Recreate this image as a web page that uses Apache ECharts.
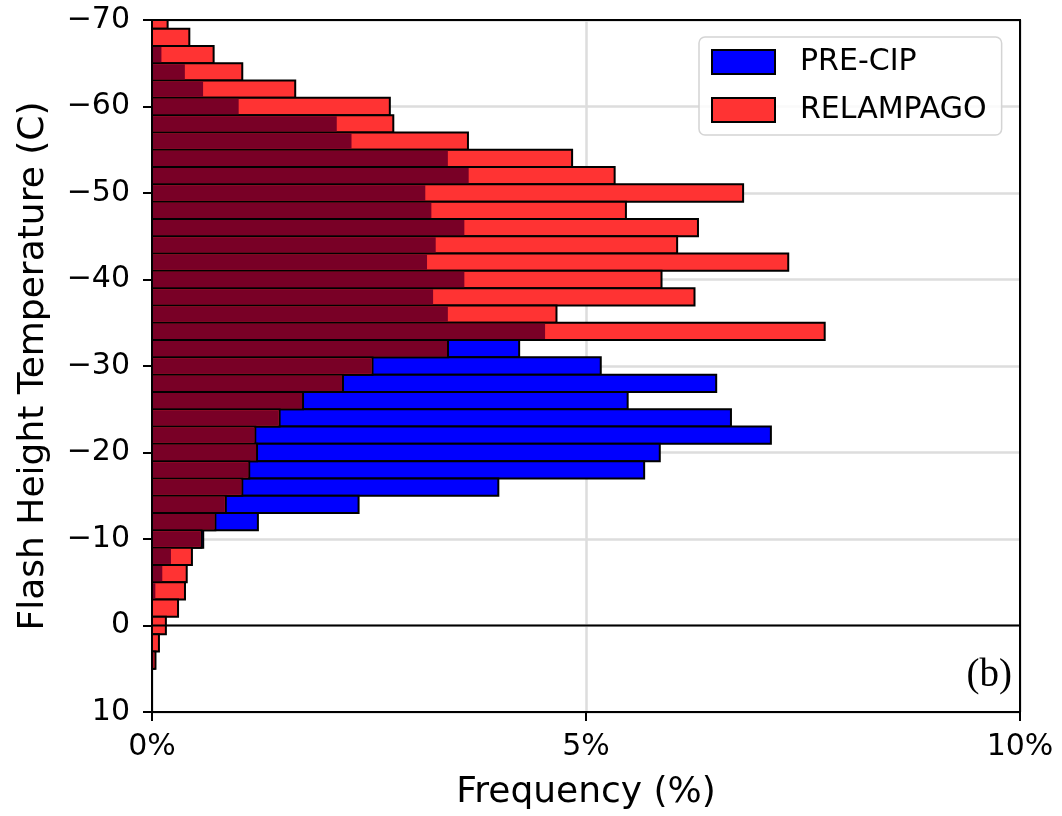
<!DOCTYPE html>
<html>
<head>
<meta charset="utf-8">
<script src="https://cdn.jsdelivr.net/npm/echarts@6/dist/echarts.min.js"></script>
<style>
  html, body { margin: 0; padding: 0; background: #ffffff; }
  #chart { width: 1062px; height: 816px; }
</style>
</head>
<body>
<div id="chart"></div>
<script>
// Flash height temperature histogram: bin centres in °C (bins are 2 °C wide)
const binCentres = [
  -70, -68, -66, -64, -62, -60, -58, -56, -54, -52,
  -50, -48, -46, -44, -42, -40, -38, -36, -34, -32,
  -30, -28, -26, -24, -22, -20, -18, -16, -14, -12,
  -10, -8, -6, -4, -2, 0, 2, 4, 6, 8, 10
];
const binWidth = 2;

// Frequency of flashes per bin (%)
const preCip = [
  0.00, 0.00, 0.12, 0.39, 0.60, 1.01, 2.14, 2.31, 3.42, 3.66,
  3.16, 3.23, 3.61, 3.28, 3.18, 3.61, 3.25, 3.42, 4.54, 4.23,
  5.17, 6.50, 5.48, 6.67, 7.13, 5.85, 5.67, 3.99, 2.38, 1.22,
  0.59, 0.23, 0.13, 0.05, 0.02, 0.01, 0.00, 0.03, 0.00, 0.00, 0.00
];
const relampago = [
  0.18, 0.43, 0.71, 1.04, 1.65, 2.74, 2.78, 3.64, 4.84, 5.33,
  6.81, 5.46, 6.29, 6.05, 7.33, 5.87, 6.25, 4.66, 7.75, 3.41,
  2.54, 2.20, 1.74, 1.47, 1.19, 1.21, 1.12, 1.04, 0.85, 0.73,
  0.57, 0.46, 0.40, 0.38, 0.30, 0.16, 0.08, 0.04, 0.00, 0.00, 0.00
];

// Axis ticks
const tempTicks = { min: -70, max: 10, step: 10 };
const freqTicks = { min: 0, max: 10, step: 5 };
const freezingLevel = 0;

const seriesNames = ['PRE-CIP', 'RELAMPAGO'];

const COLORS = {
  preCip: '#0000ff',
  relampago: '#ff3333',
  overlap: '#790026',
  edge: '#000000',
  grid: '#dddddd'
};
const EDGE_W = 2;
const FONT = '"DejaVu Sans", sans-serif';

// Portion of each bin shared by both campaigns
const overlap = preCip.map((v, i) => Math.min(v, relampago[i]));

function toData(values) {
  return binCentres.map((t, i) => [t, values[i]]);
}

// Draws one horizontal histogram bar per bin, clipped to the plot area
function binRenderer(fill, stroke, inset) {
  return function (params, api) {
    const t = api.value(0);
    const v = api.value(1);
    if (!(v > 0)) return;
    const a = api.coord([0, t - binWidth / 2]);
    const b = api.coord([v, t + binWidth / 2]);
    let rect = {
      x: Math.min(a[0], b[0]) + inset,
      y: Math.min(a[1], b[1]) + inset,
      width: Math.abs(b[0] - a[0]) - 2 * inset,
      height: Math.abs(b[1] - a[1]) - 2 * inset
    };
    if (rect.width <= 0 || rect.height <= 0) return;
    rect = echarts.graphic.clipRectByRect(rect, params.coordSys);
    if (!rect) return;
    return {
      type: 'rect',
      shape: rect,
      style: stroke
        ? { fill: fill, stroke: stroke, lineWidth: EDGE_W }
        : { fill: fill }
    };
  };
}

const chart = echarts.init(document.getElementById('chart'), null, { renderer: 'canvas' });

chart.setOption({
  animation: false,
  backgroundColor: '#ffffff',
  grid: {
    left: 152, right: 42, top: 20, bottom: 104,
    show: true, borderColor: '#000000', borderWidth: 2,
    backgroundColor: 'transparent', z: 5
  },
  legend: {
    orient: 'vertical',
    left: 699, top: 37,
    padding: [10, 15, 10, 12],
    itemWidth: 63, itemHeight: 24, itemGap: 18,
    icon: 'rect',
    backgroundColor: 'rgba(255,255,255,0.85)',
    borderColor: '#d4d4d4', borderWidth: 1.5, borderRadius: 6,
    textStyle: { fontFamily: FONT, fontSize: 30, color: '#000', lineHeight: 30, padding: [0, 0, 0, 20] },
    selectedMode: false,
    data: [
      { name: seriesNames[0], itemStyle: { color: COLORS.preCip, borderColor: COLORS.edge, borderWidth: EDGE_W } },
      { name: seriesNames[1], itemStyle: { color: COLORS.relampago, borderColor: COLORS.edge, borderWidth: EDGE_W } }
    ],
    z: 6
  },
  xAxis: {
    type: 'value',
    min: freqTicks.min, max: freqTicks.max, interval: freqTicks.step,
    name: 'Frequency (%)',
    nameLocation: 'middle', nameGap: 63,
    nameTextStyle: { fontFamily: FONT, fontSize: 36, color: '#000' },
    axisLine: { show: true, onZero: false, lineStyle: { color: '#000', width: 2 } },
    axisTick: { show: true, length: 9, lineStyle: { color: '#000', width: 2 } },
    axisLabel: { fontFamily: FONT, fontSize: 30, color: '#000', margin: 20, formatter: '{value}%' },
    splitLine: { show: true, lineStyle: { color: COLORS.grid, width: 2.5 } }
  },
  yAxis: {
    type: 'value',
    inverse: true,
    min: tempTicks.min, max: tempTicks.max, interval: tempTicks.step,
    name: 'Flash Height Temperature (C)',
    nameLocation: 'middle', nameGap: 100, nameRotate: 90,
    nameTextStyle: { fontFamily: FONT, fontSize: 36, color: '#000' },
    axisLine: { show: true, onZero: false, lineStyle: { color: '#000', width: 2 } },
    axisTick: { show: true, length: 9, lineStyle: { color: '#000', width: 2 } },
    axisLabel: {
      fontFamily: FONT, fontSize: 30, color: '#000', margin: 22,
      formatter: v => String(v).replace('-', '\u2212')
    },
    splitLine: { show: true, lineStyle: { color: COLORS.grid, width: 2.5 } }
  },
  series: [
    {
      name: seriesNames[0],
      type: 'custom',
      renderItem: binRenderer(COLORS.preCip, COLORS.edge, 0),
      itemStyle: { color: COLORS.preCip, borderColor: COLORS.edge, borderWidth: EDGE_W },
      encode: { x: 1, y: 0 },
      data: toData(preCip),
      z: 2
    },
    {
      name: seriesNames[1],
      type: 'custom',
      renderItem: binRenderer(COLORS.relampago, COLORS.edge, 0),
      itemStyle: { color: COLORS.relampago, borderColor: COLORS.edge, borderWidth: EDGE_W },
      encode: { x: 1, y: 0 },
      data: toData(relampago),
      z: 3
    },
    {
      name: 'overlap',
      type: 'custom',
      renderItem: binRenderer(COLORS.overlap, null, EDGE_W / 2),
      encode: { x: 1, y: 0 },
      data: toData(overlap),
      silent: true,
      z: 4
    },
    {
      name: 'freezing level',
      type: 'line',
      data: [[freqTicks.min, freezingLevel], [freqTicks.max, freezingLevel]],
      showSymbol: false, symbol: 'none',
      lineStyle: { color: '#000', width: 2 },
      silent: true,
      z: 4
    }
  ],
  graphic: [
    {
      type: 'text',
      x: 1012, y: 676,
      z: 10,
      style: {
        text: '(b)',
        font: '39px "Liberation Serif", "DejaVu Serif", serif',
        fill: '#000',
        align: 'right',
        verticalAlign: 'middle'
      }
    }
  ]
});
</script>
</body>
</html>
